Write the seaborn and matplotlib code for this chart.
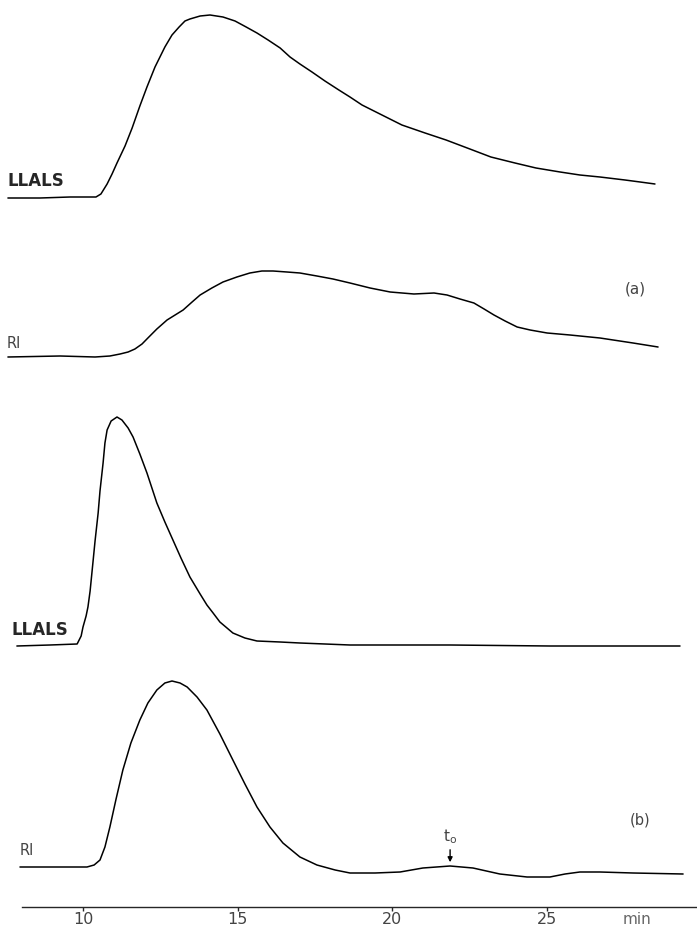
import matplotlib
matplotlib.use("Agg")
import matplotlib.pyplot as plt
import seaborn as sns

# elution time (min) and detector response
llals_a_t = [7.57, 8.61, 9.58, 10.42, 10.58, 10.78, 10.94, 11.10, 11.36, 11.59, 11.84, 12.07,
             12.33, 12.65, 12.88, 13.11, 13.30, 13.46, 13.79, 14.11, 14.53, 14.92, 15.28,
             15.63, 15.99, 16.38, 16.70, 17.02, 17.41, 17.83, 18.28, 18.64, 19.03, 19.61,
             20.32, 21.07, 21.75, 22.52, 23.20, 23.98, 24.66, 25.44, 26.08, 26.73, 27.54,
             28.03, 28.51]
llals_a = [0, 0, 1, 1, 4, 14, 24, 35, 52, 70, 92, 111, 131, 151, 163, 171, 177, 179, 182,
           183, 181, 177, 171, 165, 158, 150, 141, 134, 126, 117, 108, 101, 93, 84, 73, 65,
           58, 49, 41, 35, 30, 26, 23, 21, 18, 16, 14]

ri_a_t = [7.57, 9.26, 10.39, 10.87, 11.20, 11.46, 11.68, 11.91, 12.10, 12.39, 12.72, 12.98,
          13.24, 13.53, 13.79, 14.17, 14.53, 14.98, 15.40, 15.79, 16.15, 16.60, 17.02,
          17.57, 18.09, 18.64, 19.29, 19.94, 20.71, 21.36, 21.78, 22.20, 22.65, 22.98,
          23.30, 23.66, 24.05, 24.47, 25.02, 25.76, 26.73, 27.80, 28.61]
ri_a = [0, 1, 0, 1, 3, 5, 8, 13, 19, 28, 37, 42, 47, 55, 62, 69, 75, 80, 84, 86, 86, 85,
        84, 81, 78, 74, 69, 65, 63, 64, 62, 58, 54, 48, 42, 36, 30, 27, 24, 22, 19, 14, 10]

llals_b_t = [7.86, 8.93, 9.81, 9.94, 10.00, 10.10, 10.16, 10.23, 10.32, 10.39, 10.49, 10.55,
             10.65, 10.71, 10.78, 10.91, 11.10, 11.26, 11.46, 11.62, 11.84, 12.07, 12.23,
             12.39, 12.65, 12.91, 13.17, 13.46, 13.79, 14.01, 14.21, 14.43, 14.66, 14.85,
             15.24, 15.63, 16.38, 17.02, 18.64, 21.88, 25.11, 29.32]
llals_b = [0, 1, 2, 10, 19, 30, 39, 55, 83, 105, 133, 155, 183, 203, 216, 225, 229, 226,
           218, 209, 192, 173, 158, 143, 124, 106, 88, 69, 52, 41, 33, 24, 18, 13, 8, 5, 4,
           3, 1, 1, 0, 0]

ri_b_t = [7.96, 9.26, 10.13, 10.36, 10.55, 10.71, 10.87, 11.07, 11.29, 11.55, 11.84, 12.10,
          12.39, 12.65, 12.88, 13.14, 13.37, 13.69, 14.01, 14.43, 14.85, 15.24, 15.63,
          16.05, 16.47, 17.02, 17.57, 18.16, 18.64, 19.45, 20.26, 21.00, 21.88, 22.62,
          23.49, 24.37, 25.11, 25.60, 26.08, 26.73, 27.80, 29.42]
ri_b = [0, 0, 0, 2, 7, 20, 40, 68, 97, 124, 147, 164, 177, 184, 186, 184, 180, 170, 157,
        133, 107, 83, 60, 40, 24, 10, 2, -3, -6, -6, -5, -1, 1, -1, -7, -10, -10, -7, -5,
        -5, -6, -7]

ticks = [10, 15, 20, 25]
t_zero = 21.88

sns.set_style("white")
plt.rcParams["font.family"] = ["DejaVu Sans"]

fig = plt.figure(figsize=(6.97, 9.33), dpi=100)
ax = fig.add_axes([0, 0, 1, 1])

# vertical offsets of the four stacked traces (pixel-like units, y grows down)
traces = [(llals_a_t, llals_a, 198), (ri_a_t, ri_a, 357),
          (llals_b_t, llals_b, 646), (ri_b_t, ri_b, 867)]
for t, h, base in traces:
    sns.lineplot(x=t, y=[base - v for v in h], ax=ax, color="black", lw=1.1)

ax.set_xlim(7.314, 29.87)
ax.set_ylim(933, 0)

grey = "#444444"
ax.text(7.57, 190, "LLALS", fontsize=12, fontweight="bold", ha="left", va="bottom")
ax.text(7.54, 351, "RI", fontsize=10.5, color=grey, ha="left", va="bottom")
ax.text(27.54, 289, "(a)", fontsize=11, color=grey, ha="left", va="center")
ax.text(7.70, 639, "LLALS", fontsize=12, fontweight="bold", ha="left", va="bottom")
ax.text(7.96, 858, "RI", fontsize=10.5, color=grey, ha="left", va="bottom")
ax.text(28.03, 820, "(b)", fontsize=10.5, color=grey, ha="center", va="center")
ax.text(t_zero, 837, r"t$_{\rm o}$", fontsize=11, color=grey, ha="center", va="center")
ax.annotate("", xy=(t_zero, 865), xytext=(t_zero, 847),
            arrowprops=dict(arrowstyle="-|>", color="black", lw=1, mutation_scale=7))
ax.text(27.93, 920, "min", fontsize=11, color="#666666", ha="center", va="center")

# time axis drawn as a floating bottom spine
for s in ["left", "right", "top"]:
    ax.spines[s].set_visible(False)
ax.spines["bottom"].set_position(("data", 907))
ax.spines["bottom"].set_bounds(8.03, 29.87)
ax.spines["bottom"].set_linewidth(1.0)
ax.set_xticks(ticks)
ax.set_xticklabels([str(v) for v in ticks])
ax.set_yticks([])
ax.tick_params(axis="x", direction="out", length=3, width=1, pad=0.5, labelsize=11.5,
               labelcolor=grey, bottom=True)

plt.savefig("out.png", dpi=100)
